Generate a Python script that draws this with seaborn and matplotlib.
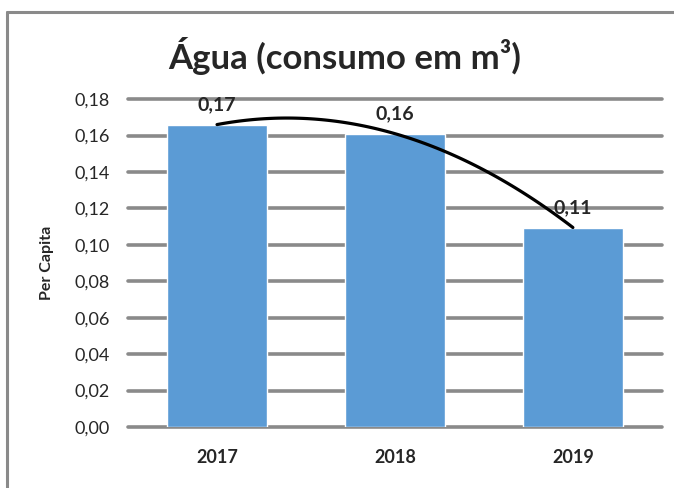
import matplotlib
matplotlib.use("Agg")
import matplotlib.pyplot as plt
import seaborn as sns
import pandas as pd
import numpy as np
from matplotlib.lines import Line2D

# dados
anos = ["2017", "2018", "2019"]
per_capita = [0.166, 0.161, 0.1095]
rotulos = ["0,17", "0,16", "0,11"]
yticks = [0.00, 0.02, 0.04, 0.06, 0.08, 0.10, 0.12, 0.14, 0.16, 0.18]

df = pd.DataFrame({"Ano": anos, "Per Capita": per_capita})
df["pos"] = np.arange(len(anos))

sns.set_theme(style="white")
plt.rcParams["font.family"] = ["Lato", "DejaVu Sans"]

fig = plt.figure(figsize=(6.74, 4.88), dpi=100)
ax = fig.add_axes([0.190, 0.125, 0.792, 0.672])

grid_color = "#8a8a8a"
sns.barplot(data=df, x="Ano", y="Per Capita", color="#5b9bd5", saturation=1,
            width=0.56, ax=ax, zorder=2)

# linha de tendência polinomial (ordem 2)
sns.regplot(data=df, x="pos", y="Per Capita", order=2, ci=None, scatter=False,
            truncate=True, line_kws={"color": "black", "linewidth": 2.3, "zorder": 3}, ax=ax)

for i, (v, lab) in enumerate(zip(per_capita, rotulos)):
    ax.annotate(lab, (i, v), xytext=(0, 14), textcoords="offset points",
                ha="center", va="center", fontsize=14, fontweight="bold", zorder=4)

ax.set_xlim(-0.5, 2.5)
ax.set_ylim(0, 0.18)
ax.set_yticks(yticks)
ax.set_yticklabels([f"{t:.2f}".replace(".", ",") for t in yticks], fontsize=13)
ax.set_xticks(range(len(anos)))
ax.set_xticklabels(anos, fontsize=13, fontweight="bold")
ax.tick_params(axis="x", pad=16, length=0)
ax.tick_params(axis="y", pad=13, length=0)

ax.yaxis.grid(True, color=grid_color, linewidth=2.6, zorder=0)
ax.set_axisbelow(True)
for gl in ax.get_ygridlines():
    gl.set_clip_on(False)
for s in ax.spines.values():
    s.set_visible(False)

ax.set_xlabel("")
ax.set_ylabel("Per Capita", fontsize=11.5, fontweight="bold")
ax.yaxis.set_label_coords(-0.138, 0.5)

fig.suptitle("Água (consumo em m³)", x=0.512, y=0.859, va="baseline",
             fontsize=25, fontweight="bold")

# moldura
fig.add_artist(Line2D([0.011, 0.011], [0, 0.975], color=grid_color, linewidth=2.2,
                      transform=fig.transFigure))
fig.add_artist(Line2D([0.010, 1.0], [0.975, 0.975], color=grid_color, linewidth=2.2,
                      transform=fig.transFigure))

fig.savefig("out.png", dpi=100, facecolor="white")
